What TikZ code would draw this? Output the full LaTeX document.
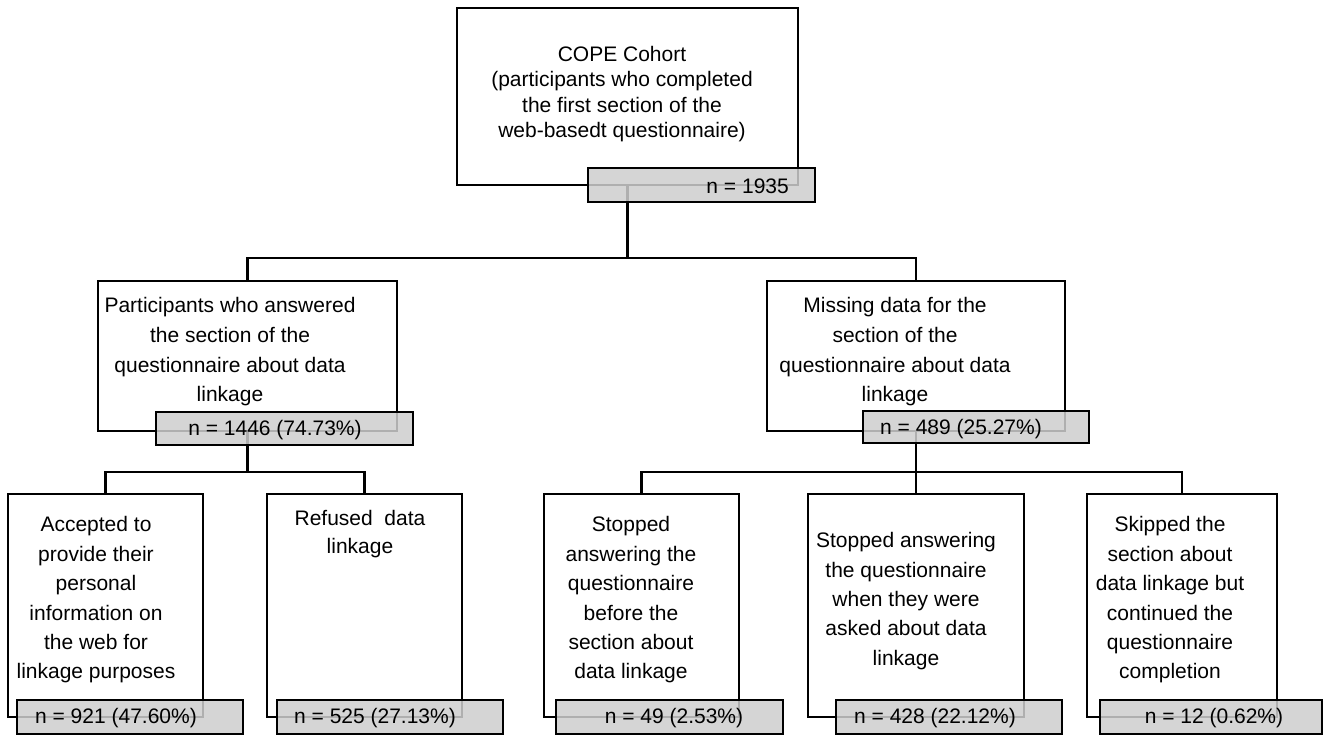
\documentclass[tikz,border=0pt]{standalone}
\usepackage{fontspec}
\setmainfont{Liberation Sans}
\definecolor{cntgray}{RGB}{206,206,206}
\begin{document}
\begin{tikzpicture}[x=1pt,y=-1pt,
  box/.style={draw, line width=2.2pt, fill=white, inner sep=0pt, outer sep=0pt},
  cnt/.style={draw, line width=2.2pt, fill=cntgray, fill opacity=0.85, text opacity=1, inner sep=0pt, outer sep=0pt},
  txt/.style={align=center, font=\fontsize{21}{29.4}\selectfont, inner sep=0pt},
  ntxt/.style={font=\fontsize{21}{25}\selectfont, inner sep=0pt},
  link/.style={line width=2.2pt}]
\useasboundingbox (0,0) rectangle (1324,735);
% white boxes
\node[box, minimum width=341pt, minimum height=177pt] (top) at (627.5,96.5) {};
\node[box, minimum width=299pt, minimum height=150pt] (ml) at (247.5,356) {};
\node[box, minimum width=298pt, minimum height=150pt] (mr) at (916,356) {};
\node[box, minimum width=195pt, minimum height=223pt] (b1) at (105.5,605.5) {};
\node[box, minimum width=195pt, minimum height=223pt] (b2) at (364.5,605.5) {};
\node[box, minimum width=195pt, minimum height=223pt] (b3) at (641.5,605.5) {};
\node[box, minimum width=216pt, minimum height=223pt] (b4) at (916,605.5) {};
\node[box, minimum width=190pt, minimum height=223pt] (b5) at (1182,605.5) {};
% texts
\node[txt, font=\fontsize{21}{25.5}\selectfont] (ttop) at (622,94) {COPE Cohort\\(participants who completed\\the first section of the\\web-basedt questionnaire)};
\node[txt, font=\fontsize{21}{29.7}\selectfont] (tml) at (230,352) {Participants who answered\\the section of the\\questionnaire about data\\linkage};
\node[txt, font=\fontsize{21}{29.7}\selectfont] (tmr) at (895,352) {Missing data for the\\section of the\\questionnaire about data\\linkage};
\node[txt] (tb1) at (96,600) {Accepted to\\provide their\\personal\\information on\\the web for\\linkage purposes};
\node[txt, font=\fontsize{21}{28}\selectfont] (tb2) at (360,534) {Refused\ \ data\\linkage};
\node[txt] (tb3) at (631,600) {Stopped\\answering the\\questionnaire\\before the\\section about\\data linkage};
\node[txt] (tb4) at (906,601) {Stopped answering\\the questionnaire\\when they were\\asked about data\\linkage};
\node[txt] (tb5) at (1170,600) {Skipped the\\section about\\data linkage but\\continued the\\questionnaire\\completion};
% connectors
\coordinate (j1) at (627.5,258);
\coordinate (j2) at (247.5,472);
\coordinate (j3) at (916,472);
\draw[link] (top.south) -- (j1);
\draw[link] (ml.north) |- (j1) -| (mr.north);
\draw[link] (ml.south) -- (j2);
\draw[link] (b1.north) |- (j2) -| (b2.north);
\draw[link] (mr.south) -- (j3);
\draw[link] (b3.north) |- (j3) -| (b5.north);
\draw[link] (j3) -- (b4.north);
% count boxes
\node[cnt, minimum width=227pt, minimum height=34pt] (c0) at (701.5,185) {};
\node[cnt, minimum width=257pt, minimum height=33pt] (c1) at (284.5,428.5) {};
\node[cnt, minimum width=226pt, minimum height=32pt] (c2) at (976,427) {};
\node[cnt, minimum width=226pt, minimum height=34pt] (c3) at (130,717) {};
\node[cnt, minimum width=226pt, minimum height=34pt] (c4) at (390,717) {};
\node[cnt, minimum width=227pt, minimum height=34pt] (c5) at (669.5,717) {};
\node[cnt, minimum width=226pt, minimum height=34pt] (c6) at (949,717) {};
\node[cnt, minimum width=222pt, minimum height=34pt] (c7) at (1211,717) {};
% count texts
\node[ntxt, anchor=east] (n0) at (789,186) {n = 1935};
\node[ntxt] (n1) at (275,430) {n = 1446 (74.73\%)};
\node[ntxt] (n2) at (961,429) {n = 489 (25.27\%)};
\node[ntxt] (n3) at (116,718) {n = 921 (47.60\%)};
\node[ntxt] (n4) at (375,718) {n = 525 (27.13\%)};
\node[ntxt] (n5) at (674,718) {n = 49 (2.53\%)};
\node[ntxt] (n6) at (935,718) {n = 428 (22.12\%)};
\node[ntxt] (n7) at (1214,718) {n = 12 (0.62\%)};
\end{tikzpicture}
\end{document}
